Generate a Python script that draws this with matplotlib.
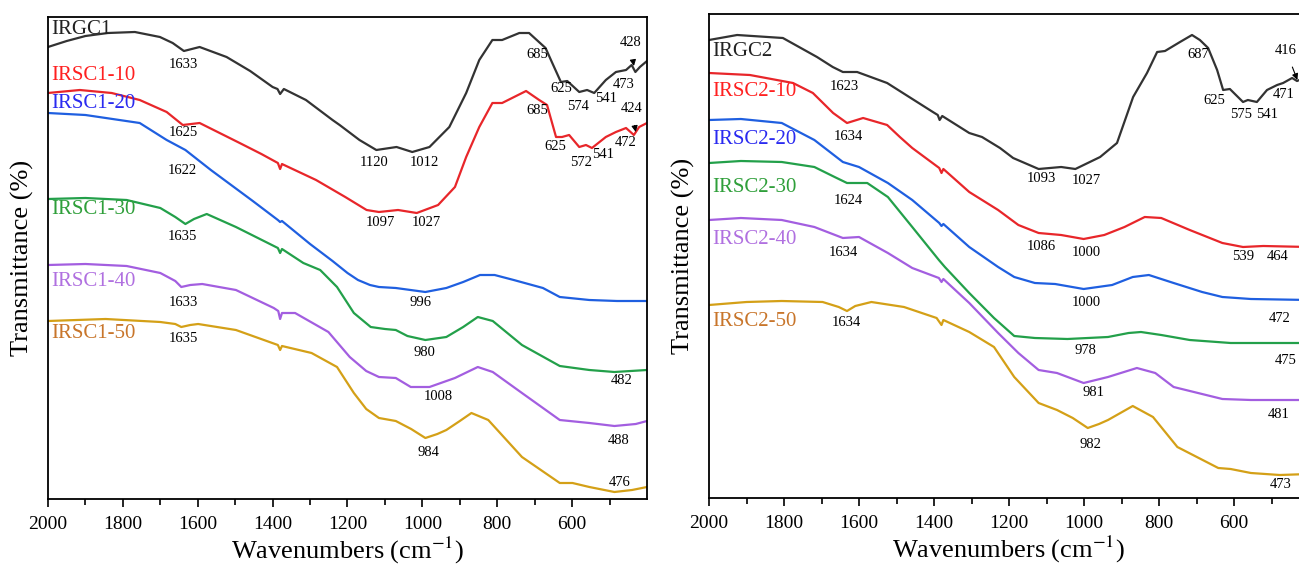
import numpy as np
import matplotlib
matplotlib.use("Agg")
from matplotlib import pyplot as plt
from matplotlib.ticker import FixedLocator

plt.rcParams['font.family'] = ['Liberation Serif', 'DejaVu Serif']
plt.rcParams['mathtext.fontset'] = 'stix'

# ---- left panel data (transmittance in arbitrary units, offset stack) ----
irgc1_wn = [2000,1950,1900,1840,1768,1701,1667,1637,1595,1523,1460,1400,1387,1380,1370,1311,1240,1221,1168,1123,
            1069,1027,981,928,883,848,813,787,741,715,671,653,630,613,581,560,541,510,483,456,441,431,419,400]
irgc1_t = [452,458,463,466,467,462,456,448,452,442,428,412,410,405,410,399,379,374,359,349,
           352,347,352,372,406,439,459,459,466,466,451,436,417,418,407,409,406,419,427,429,434,427,432,438]

irsc1_10_wn = [2000,1915,1830,1755,1683,1640,1595,1488,1430,1386,1380,1375,1284,1206,1149,1116,1065,1015,958,913,
               883,848,813,787,723,688,667,643,627,608,581,563,547,510,483,456,435,421,400]
irsc1_10_t = [406,409,406,399,387,374,376,356,345,336,330,335,319,302,289,287,289,286,294,312,
              342,372,396,396,408,399,394,362,362,364,352,354,351,362,367,371,364,372,376]

irsc1_20_wn = [2000,1900,1755,1683,1633,1565,1453,1386,1380,1375,1300,1240,1200,1172,1140,1116,1071,992,936,891,
               846,807,756,678,633,554,480,400]
irsc1_20_t = [386,384,376,359,349,329,298,279,277,278,255,238,226,219,214,212,211,207,211,217,
              224,224,219,211,202,199,198,198]

irsc1_30_wn = [2000,1900,1790,1700,1660,1633,1610,1576,1498,1386,1380,1375,1318,1273,1228,1183,1138,1100,1071,1040,
               992,936,891,852,812,734,633,554,487,400]
irsc1_30_t = [300,301,299,291,282,275,280,285,272,251,246,250,236,229,212,186,172,170,169,163,
              159,162,172,182,178,154,133,129,127,129]

irsc1_40_wn = [2000,1900,1790,1700,1660,1644,1620,1588,1498,1397,1385,1380,1375,1340,1251,1194,1150,1116,1071,1031,
               981,913,852,812,734,633,554,487,430,400]
irsc1_40_t = [234,235,233,226,218,212,214,215,209,191,188,180,186,186,167,142,128,122,121,112,
              112,121,132,127,106,79,76,73,75,78]

irsc1_50_wn = [2000,1846,1700,1660,1644,1620,1599,1498,1386,1380,1375,1296,1228,1183,1150,1116,1071,1030,992,960,
               936,900,869,824,734,633,599,554,487,440,400]
irsc1_50_t = [178,180,177,175,172,174,175,169,154,149,153,146,132,106,90,81,78,70,61,65,
              69,78,86,79,42,16,16,12,7,9,12]

# ---- right panel data ----
irgc2_wn = [2000,1925,1803,1712,1670,1643,1605,1525,1403,1390,1385,1378,1306,1272,1224,1189,1121,1061,1023,957,
            912,869,832,805,784,744,712,691,669,645,629,611,576,563,539,512,485,469,445,432,400]
irgc2_t = [458,463,460,441,431,426,426,415,386,383,378,382,365,361,350,340,329,331,329,341,
           355,401,425,446,447,456,463,458,450,428,408,409,396,398,396,408,413,415,420,417,422]

irsc2_10_wn = [2000,1891,1776,1723,1669,1632,1589,1525,1491,1458,1386,1380,1375,1306,1229,1175,1121,1061,1001,946,
               892,838,794,718,631,576,522,400]
irsc2_10_t = [425,423,415,405,385,375,380,373,361,350,330,325,329,306,288,273,265,263,259,263,
              271,281,280,268,255,251,252,251]

irsc2_20_wn = [2000,1915,1806,1719,1643,1600,1523,1458,1386,1380,1375,1306,1229,1186,1131,1077,1001,925,870,827,
               761,685,631,555,400]
irsc2_20_t = [378,379,375,358,336,331,315,298,275,272,274,251,231,221,215,214,209,213,221,223,
              215,206,201,199,198]

irsc2_30_wn = [2000,1915,1806,1719,1665,1632,1578,1523,1458,1387,1371,1306,1240,1186,1131,1044,936,881,848,794,
               718,609,400]
irsc2_30_t = [335,337,336,331,321,315,315,301,271,238,231,205,180,162,160,159,161,165,166,163,
              158,155,155]

irsc2_40_wn = [2000,1915,1806,1719,1643,1600,1523,1458,1387,1380,1375,1306,1229,1175,1121,1072,1001,936,859,810,
               761,631,555,400]
irsc2_40_t = [278,280,278,271,260,261,245,230,220,216,219,195,165,145,128,125,115,121,130,125,
              111,99,98,98]

irsc2_50_wn = [2000,1900,1806,1697,1654,1632,1610,1567,1480,1393,1380,1375,1306,1240,1186,1121,1072,1030,990,960,
               936,870,816,751,642,609,555,478,400]
irsc2_50_t = [193,196,197,196,191,187,192,196,191,180,173,178,166,151,121,95,88,80,70,74,
              78,92,81,51,30,29,25,23,24]

line_colors = ['#333333', '#e8262a', '#1f5fe0', '#23a04a', '#a35ee0', '#d4a017']
label_colors = ['#222222', '#ff2020', '#2a2af0', '#2f9f3a', '#b070e0', '#c8752a']

names1 = ['IRGC1', 'IRSC1-10', 'IRSC1-20', 'IRSC1-30', 'IRSC1-40', 'IRSC1-50']
names2 = ['IRGC2', 'IRSC2-10', 'IRSC2-20', 'IRSC2-30', 'IRSC2-40', 'IRSC2-50']
name_y1 = [470, 423, 396, 289, 218, 165]
name_y2 = [447, 406, 359, 311, 259, 176]

# peak labels: (text, wavenumber, height)
peaks1 = [('1633',1638,434),('1625',1638,367),('1622',1640,329),('1635',1642,263),
          ('1120',1130,337),('1012',995,337),('1097',1113,276),('1027',990,276),
          ('685',694,444),('625',629,410),('574',585,393),('541',509,400),('473',461,414),
          ('685',694,389),('625',646,352),('572',576,337),('541',518,344),('472',458,357),
          ('1633',1638,197),('1635',1638,161),('996',1006,196),('980',994,147),('482',467,118),
          ('1008',958,102),('488',477,59),('984',983,46),('476',473,17)]
arrows1 = [('428',445,456,435,433),('424',442,391,430,367)]

peaks2 = [('1623',1638,411),('1634',1629,361),('1624',1629,298),('1634',1643,246),
          ('1093',1113,320),('1027',993,318),('687',696,443),('625',653,398),
          ('575',582,383),('541',511,383),('471',468,403),
          ('1086',1113,251),('1000',995,245),('539',576,241),('464',484,241),
          ('1000',995,196),('472',478,179),('1634',1634,176),('978',995,147),('475',462,138),
          ('981',974,106),('481',482,84),('982',982,53),('473',476,13)]
arrows2 = [('416',462,448,431,418)]

fig = plt.figure(figsize=(12.99, 5.64), dpi=100)
axL = fig.add_axes([48/1299, 65/564, 599/1299, 482/564])
axR = fig.add_axes([709/1299, 66/564, 600/1299, 484/564])

series1 = [(irgc1_wn, irgc1_t), (irsc1_10_wn, irsc1_10_t), (irsc1_20_wn, irsc1_20_t),
           (irsc1_30_wn, irsc1_30_t), (irsc1_40_wn, irsc1_40_t), (irsc1_50_wn, irsc1_50_t)]
series2 = [(irgc2_wn, irgc2_t), (irsc2_10_wn, irsc2_10_t), (irsc2_20_wn, irsc2_20_t),
           (irsc2_30_wn, irsc2_30_t), (irsc2_40_wn, irsc2_40_t), (irsc2_50_wn, irsc2_50_t)]

for ax, series, names, name_y, peaks, arrows, top in [
        (axL, series1, names1, name_y1, peaks1, arrows1, 482),
        (axR, series2, names2, name_y2, peaks2, arrows2, 484)]:
    for (wn, t), c in zip(series, line_colors):
        ax.plot(wn, t, color=c, lw=1.6, solid_joinstyle='round')
    for n, y, c in zip(names, name_y, label_colors):
        ax.text(1992, y, n, color=c, fontsize=15, ha='left', va='center')
    for txt, x, y in peaks:
        ax.text(x, y, txt, fontsize=10.5, ha='center', va='center')
    for txt, x, y, ax_, ay in arrows:
        ax.annotate(txt, xy=(ax_, ay), xytext=(x, y), fontsize=10.5, ha='center', va='center',
                    arrowprops=dict(arrowstyle='-|>', color='black', lw=0.8, mutation_scale=9,
                                    shrinkA=6, shrinkB=0))
    ax.set_xlim(2000, 400)
    ax.set_ylim(0, top)
    ax.xaxis.set_major_locator(FixedLocator([2000, 1800, 1600, 1400, 1200, 1000, 800, 600]))
    ax.xaxis.set_minor_locator(FixedLocator([1900, 1700, 1500, 1300, 1100, 900, 700, 500]))
    ax.tick_params(axis='x', which='major', direction='out', length=6, width=1.2, labelsize=14, pad=6)
    ax.tick_params(axis='x', which='minor', direction='out', length=4, width=1.2)
    ax.set_yticks([])
    for s in ax.spines.values():
        s.set_linewidth(1.3)
    ax.set_xlabel('Wavenumbers (cm$^{-1}$)', fontsize=19, labelpad=2)
    ax.set_ylabel('Transmittance (%)', fontsize=19, labelpad=10)

fig.savefig('out.png', dpi=100)
